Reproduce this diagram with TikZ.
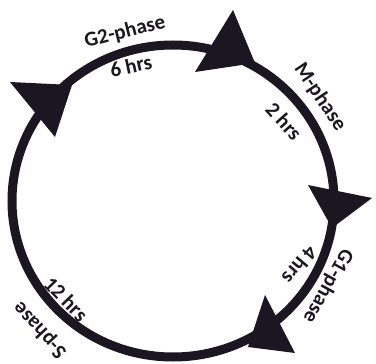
\documentclass[tikz,border=0pt]{standalone}
\usepackage{fontspec}
\setmainfont{Carlito}
\definecolor{ink}{RGB}{26,22,34}
\begin{document}
\begin{tikzpicture}[x=1pt,y=-1pt,
  lbl/.style={font=\fontsize{21}{25}\selectfont\bfseries, text=ink, inner sep=0pt},
  cycleline/.style={draw=ink, line width=9pt},
  head/.style={fill=ink}]
\useasboundingbox (0,0) rectangle (376,364);
% cycle
\coordinate (c) at (173,201);
\draw[cycleline] (c) ellipse [x radius=161pt, y radius=156pt];
% arrow heads
\fill[head] (233,10) -- (195,72) -- (255,63) -- cycle;
\fill[head] (10,82) -- (72,85) -- (55,137) -- cycle;
\fill[head] (308,185) -- (372,198) -- (332,228) -- cycle;
\fill[head] (265,295) -- (295,353) -- (248,347) -- cycle;
% labels
\node[lbl, rotate=14] (g2) at (125,32) {G2-phase};
\node[lbl, rotate=12] (g2t) at (131,66) {6 hrs};
\node[lbl, rotate=-56] (m) at (320,97) {M-phase};
\node[lbl, rotate=-48] (mt) at (284,121) {2 hrs};
\node[lbl, rotate=-119] (g1) at (328,286) {G1-phase};
\node[lbl, rotate=-130] (g1t) at (300,265) {4 hrs};
\node[lbl, rotate=133] (s) at (40,330) {S-phase};
\node[lbl, rotate=-46] (st) at (66,299) {12 hrs};
\end{tikzpicture}
\end{document}
